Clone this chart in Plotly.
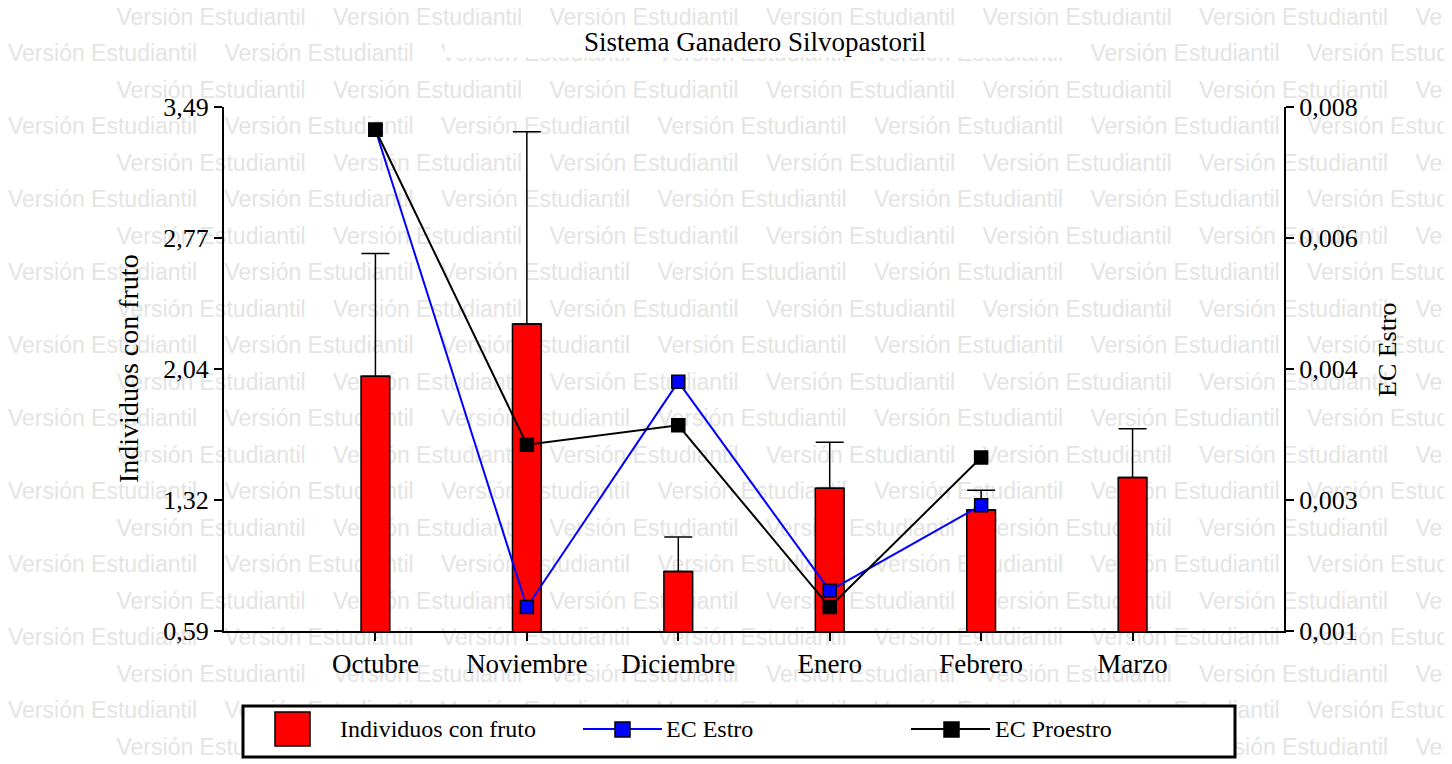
import plotly.graph_objects as go

W, H = 1452, 764
OX, OY = 8, 8  # margen del body de la pagina

# datos
meses = ['Octubre', 'Noviembre', 'Diciembre', 'Enero', 'Febrero', 'Marzo']
individuos = [2.00, 2.29, 0.92, 1.38, 1.26, 1.44]
individuos_ee = [0.68, 1.065, 0.19, 0.255, 0.11, 0.27]
ec_estro = [0.00770, 0.00132, 0.00433, 0.00154, 0.00268, None]
ec_proestro = [0.00770, 0.00349, 0.00375, 0.00132, 0.00332, None]

y_ticks = [0.59, 1.315, 2.04, 2.765, 3.49]
y_ticktext = ['0,59', '1,32', '2,04', '2,77', '3,49']
y2_ticks = [0.001, 0.00275, 0.0045, 0.00625, 0.008]
y2_ticktext = ['0,001', '0,003', '0,004', '0,006', '0,008']

MARCA = 'Versión Estudiantil'
SERIF = 'Liberation Serif'


def px(x):
    return (x - OX) / W


def py(y):
    return 1 - (y - OY) / H


# marca de agua (fondo)
wm_x, wm_y = [], []
for fila in range(21):
    inicio = -108 if fila % 2 == 0 else 0
    for col in range(8):
        wm_x.append(inicio + col * 216.5)
        wm_y.append(19 - OY + fila * 36.5)

fig = go.Figure()
fig.add_trace(go.Scatter(
    x=wm_x, y=wm_y, mode='text', text=[MARCA] * len(wm_x),
    textposition='middle right',
    textfont=dict(family='Liberation Sans', size=23, color='#e4e4e4'),
    xaxis='x', yaxis='y', hoverinfo='skip', showlegend=False, cliponaxis=False
))

fig.add_trace(go.Bar(
    x=meses, y=individuos, width=0.19, name='Individuos con fruto',
    marker=dict(color='#ff0000', line=dict(color='black', width=1.5)),
    error_y=dict(type='data', symmetric=False, array=individuos_ee,
                 arrayminus=[0] * len(meses), color='black', thickness=1.5, width=14),
    xaxis='x2', yaxis='y2', showlegend=False
))
fig.add_trace(go.Scatter(
    x=meses, y=ec_estro, mode='lines+markers', name='EC Estro',
    line=dict(color='#0000ff', width=2),
    marker=dict(symbol='square', size=13, color='#0000ff', line=dict(color='black', width=1.5)),
    xaxis='x2', yaxis='y3', showlegend=False
))
fig.add_trace(go.Scatter(
    x=meses, y=ec_proestro, mode='lines+markers', name='EC Proestro',
    line=dict(color='black', width=2),
    marker=dict(symbol='square', size=13, color='black', line=dict(color='black', width=1.5)),
    xaxis='x2', yaxis='y3', showlegend=False
))

eje = dict(showline=True, linecolor='black', linewidth=2, ticks='outside', ticklen=8,
           tickwidth=2, tickcolor='black', showgrid=False, zeroline=False, automargin=False)

# leyenda dibujada a mano
shapes = [
    dict(type='rect', xref='paper', yref='paper', x0=px(243), x1=px(1235), y0=py(757), y1=py(706),
         line=dict(color='black', width=3), fillcolor='white'),
    dict(type='rect', xref='paper', yref='paper', x0=px(275), x1=px(310), y0=py(746), y1=py(712),
         line=dict(color='black', width=1.5), fillcolor='#ff0000'),
    dict(type='line', xref='paper', yref='paper', x0=px(583), x1=px(662), y0=py(729), y1=py(729),
         line=dict(color='#0000ff', width=2)),
    dict(type='rect', xref='paper', yref='paper', x0=px(615), x1=px(630), y0=py(737), y1=py(722),
         line=dict(color='black', width=1.5), fillcolor='#0000ff'),
    dict(type='line', xref='paper', yref='paper', x0=px(911), x1=px(990), y0=py(729), y1=py(729),
         line=dict(color='black', width=2)),
    dict(type='rect', xref='paper', yref='paper', x0=px(944), x1=px(959), y0=py(737), y1=py(722),
         line=dict(color='black', width=1.5), fillcolor='black'),
]

texto = dict(family=SERIF, size=24, color='black')
annotations = [
    dict(text='Sistema Ganadero Silvopastoril', x=px(755), y=py(42), xref='paper', yref='paper',
         showarrow=False, xanchor='center', yanchor='middle', bgcolor='white', width=620,
         borderpad=0, font=dict(family=SERIF, size=27, color='black')),
    dict(text='Individuos con fruto', x=px(128), y=py(369), xref='paper', yref='paper',
         showarrow=False, textangle=-90, xanchor='center', yanchor='middle',
         font=dict(family=SERIF, size=28, color='black')),
    dict(text='EC Estro', x=px(1387), y=py(350), xref='paper', yref='paper',
         showarrow=False, textangle=-90, xanchor='center', yanchor='middle',
         font=dict(family=SERIF, size=26, color='black')),
    dict(text='Individuos con fruto', x=px(338), y=py(729), xref='paper', yref='paper',
         showarrow=False, xanchor='left', yanchor='middle', font=texto),
    dict(text='EC Estro', x=px(664), y=py(729), xref='paper', yref='paper',
         showarrow=False, xanchor='left', yanchor='middle', font=texto),
    dict(text='EC Proestro', x=px(993), y=py(729), xref='paper', yref='paper',
         showarrow=False, xanchor='left', yanchor='middle', font=texto),
]

fig.update_layout(
    width=W, height=H, autosize=False,
    margin=dict(l=0, r=0, t=0, b=0, pad=0, autoexpand=False),
    paper_bgcolor='white', plot_bgcolor='rgba(0,0,0,0)',
    showlegend=False,
    xaxis=dict(domain=[0, 1], range=[0, W], visible=False, fixedrange=True, automargin=False),
    yaxis=dict(domain=[0, 1], range=[H, 0], visible=False, fixedrange=True, automargin=False),
    xaxis2=dict(eje, domain=[px(224), px(1284)], anchor='y2', type='category', range=[-1, 6],
                tickfont=dict(family=SERIF, size=27, color='black')),
    yaxis2=dict(eje, domain=[py(631), py(107.3)], anchor='x2', range=[0.59, 3.49],
                tickvals=y_ticks, ticktext=y_ticktext,
                tickfont=dict(family=SERIF, size=26, color='black')),
    yaxis3=dict(eje, overlaying='y2', side='right', anchor='x2', range=[0.001, 0.008],
                tickvals=y2_ticks, ticktext=y2_ticktext,
                tickfont=dict(family=SERIF, size=26, color='black')),
    shapes=shapes,
    annotations=annotations,
)

fig.write_html("out.html")
